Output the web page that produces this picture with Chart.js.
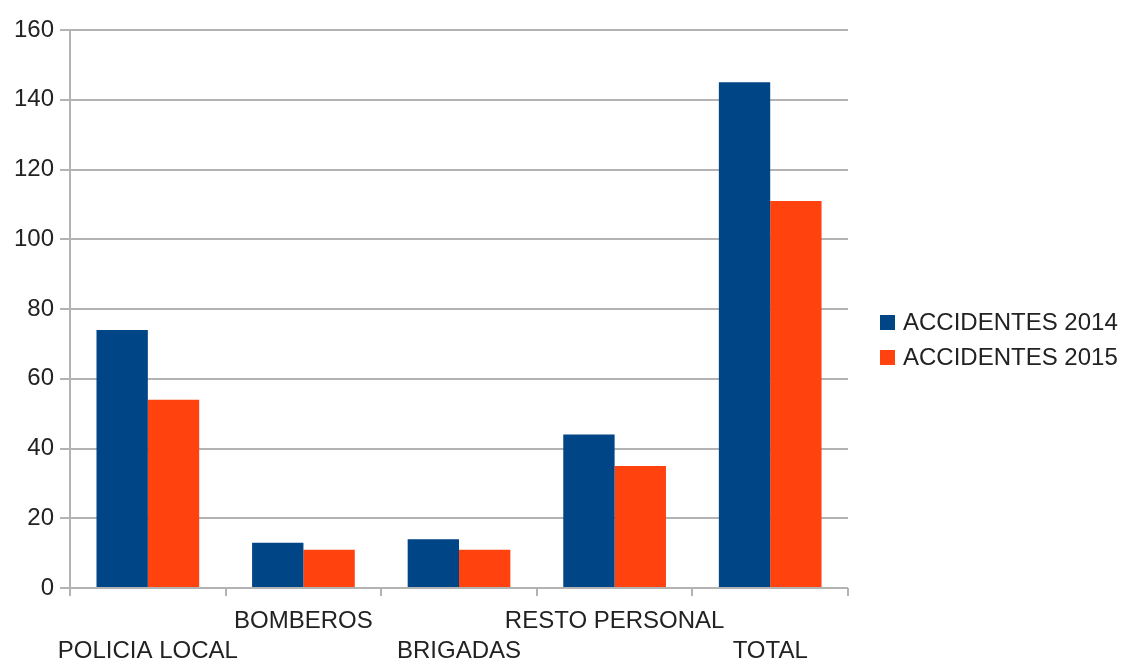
<!DOCTYPE html>
<html>
<head>
<meta charset="utf-8">
<script src="https://cdn.jsdelivr.net/npm/chart.js@4/dist/chart.umd.min.js"></script>
<style>
  body { margin: 0; background: #fff; }
  #wrap { width: 1125px; height: 662px; }
</style>
</head>
<body>
<div id="wrap"><canvas id="chart" width="1125" height="662"></canvas></div>
<script>
const categories = ['POLICIA LOCAL', 'BOMBEROS', 'BRIGADAS', 'RESTO PERSONAL', 'TOTAL'];
const accidentes2014 = [74, 13, 14, 44, 145];
const accidentes2015 = [54, 11, 11, 35, 111];
const yTicks = [0, 20, 40, 60, 80, 100, 120, 140, 160];

// alternate labels between two lines, like the original
const staggered = categories.map((c, i) => i % 2 === 0 ? ['', c] : [c, '']);

const gridGray = '#b3b3b3';
const fontFamily = '"Liberation Sans", Arial, sans-serif';
const fontSpec = { family: fontFamily, size: 24, lineHeight: 1.25 };

// legend drawn by hand so it can sit further away from the plot
const sideLegend = {
    id: 'sideLegend',
    afterDraw(chart) {
        const c = chart.ctx;
        const area = chart.chartArea;
        const x = area.right + 32;
        const midY = (area.top + area.bottom) / 2 + 31;
        c.save();
        c.font = '24px ' + fontFamily;
        c.textBaseline = 'middle';
        chart.data.datasets.forEach((ds, i) => {
            const y = midY + (i - 0.5) * 35;
            c.fillStyle = ds.backgroundColor;
            c.fillRect(x, y - 7.5, 15, 15);
            c.fillStyle = '#222';
            c.fillText(ds.label, x + 23, y + 1);
        });
        c.restore();
    }
};

const ctx = document.getElementById('chart').getContext('2d');
new Chart(ctx, {
    type: 'bar',
    data: {
        labels: staggered,
        datasets: [
            { label: 'ACCIDENTES 2014', data: accidentes2014, backgroundColor: '#004586' },
            { label: 'ACCIDENTES 2015', data: accidentes2015, backgroundColor: '#ff420e' }
        ]
    },
    options: {
        responsive: false,
        animation: false,
        layout: { padding: { top: 30, right: 277, left: 8, bottom: -14 } },
        datasets: { bar: { categoryPercentage: 0.66, barPercentage: 1.0 } },
        plugins: {
            tooltip: { enabled: false },
            legend: { display: false }
        },
        scales: {
            x: {
                grid: {
                    offset: true,
                    drawOnChartArea: true,
                    color: c => c.index === categories.length ? gridGray : 'rgba(0,0,0,0)',
                    tickColor: gridGray,
                    tickLength: 8,
                    lineWidth: 2
                },
                border: { display: false },
                ticks: {
                    autoSkip: false,
                    maxRotation: 0,
                    minRotation: 0,
                    color: '#222',
                    font: fontSpec,
                    padding: 10
                }
            },
            y: {
                min: 0,
                max: 160,
                afterBuildTicks: axis => { axis.ticks = yTicks.map(v => ({ value: v })); },
                grid: { color: gridGray, tickLength: 10, lineWidth: 2 },
                border: { color: gridGray, width: 2 },
                ticks: { color: '#222', font: fontSpec, padding: 6 }
            }
        }
    },
    plugins: [sideLegend]
});
</script>
</body>
</html>
